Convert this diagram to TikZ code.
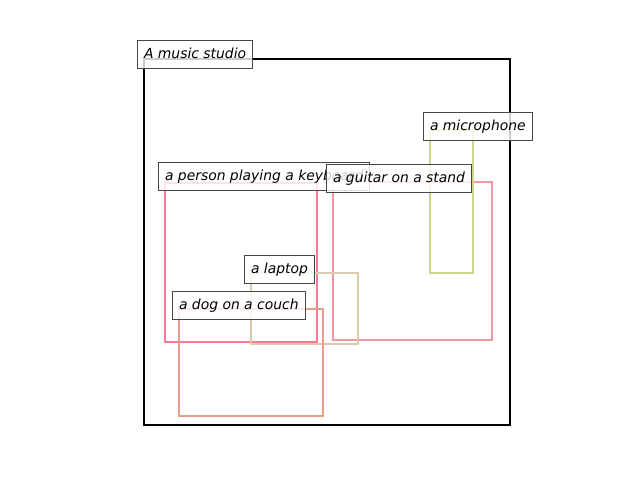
\documentclass[tikz,border=0pt]{standalone}
\usepackage{fontspec}
\setmainfont{DejaVu Sans}
\begin{document}
\begin{tikzpicture}[x=1pt,y=-1pt,
  region/.style={draw=#1, line width=2pt, inner sep=0pt, outer sep=0pt, anchor=north west},
  lbl/.style={draw=black!72, line width=1pt, fill=white, fill opacity=0.8, text opacity=1,
    inner xsep=6.5pt, inner ysep=0pt, minimum height=28pt, text height=10.5pt, text depth=2.5pt,
    anchor=south west, font=\fontsize{13.9}{16}\selectfont\itshape}]
\definecolor{cperson}{RGB}{245,122,152}
\definecolor{cguitar}{RGB}{240,152,160}
\definecolor{cmic}{RGB}{206,212,140}
\definecolor{claptop}{RGB}{220,202,172}
\definecolor{cdog}{RGB}{232,156,140}
\useasboundingbox (0,0) rectangle (640,480);
\node[region=black, minimum width=366pt, minimum height=366pt] (studio) at (144,59) {};
\node[region=cperson, minimum width=152pt, minimum height=159pt] (person) at (165,183) {};
\node[region=cguitar, minimum width=159pt, minimum height=158pt] (guitar) at (333,182) {};
\node[region=cmic, minimum width=43pt, minimum height=143pt] (mic) at (430,130) {};
\node[region=claptop, minimum width=107pt, minimum height=71pt] (laptop) at (251,273) {};
\node[region=cdog, minimum width=144pt, minimum height=107pt] (dog) at (179,309) {};
\node[lbl] (lstudio) at ([shift={(-7,10)}]studio.north west) {A music studio};
\node[lbl] (lperson) at ([shift={(-7,8)}]person.north west) {a person playing a keyboard};
\node[lbl] (lguitar) at ([shift={(-7,11)}]guitar.north west) {a guitar on a stand};
\node[lbl] (lmic) at ([shift={(-7,11)}]mic.north west) {a microphone};
\node[lbl] (llaptop) at ([shift={(-7,11)}]laptop.north west) {a laptop};
\node[lbl] (ldog) at ([shift={(-7,11)}]dog.north west) {a dog on a couch};
\end{tikzpicture}
\end{document}
